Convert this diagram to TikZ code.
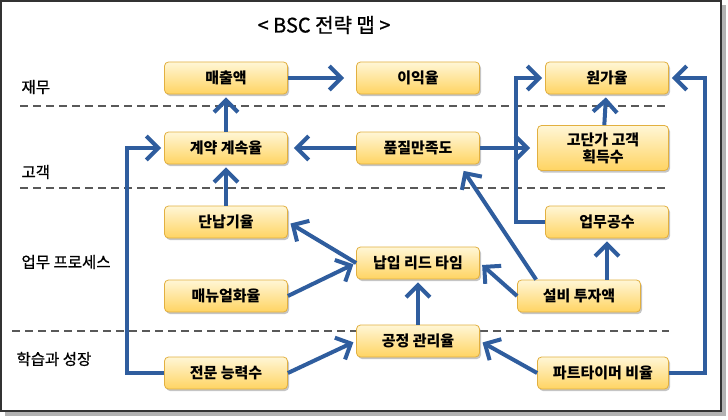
\documentclass[tikz,border=0pt]{standalone}
\usepackage{fontspec}
\setmainfont{Noto Sans CJK KR}
\newfontfamily\heavyfont[FakeBold=0.8]{Noto Sans CJK KR}
\usepackage{tikz}
\usetikzlibrary{
    arrows.meta,
    shadows,
    calc,
    positioning
}
\definecolor{flowblue}{RGB}{47,93,158}
\definecolor{boxtop}{RGB}{255,246,214}
\definecolor{boxbot}{RGB}{255,212,98}
\definecolor{boxline}{RGB}{226,176,64}
\tikzset{kpi/.style={rounded corners=4pt, draw=boxline, line width=0.8pt,
    top color=boxtop, bottom color=boxbot, minimum width=123pt, minimum height=32pt,
    inner sep=1pt, align=center, font=\fontsize{15}{17}\selectfont\bfseries,
    drop shadow={shadow xshift=1.5pt, shadow yshift=-2pt, opacity=0.45}}}
\tikzset{flow/.style={draw=flowblue, line width=4pt,
    -{Straight Barb[length=12pt, width=24pt, line width=4pt]}, shorten >=3pt}}
\tikzset{layer/.style={draw=black!65, line width=1.8pt, dash pattern=on 8pt off 5pt}}
\tikzset{persp/.style={anchor=west, font=\fontsize{15.5}{17}\heavyfont}}

\begin{document}
\begin{tikzpicture}[x=1pt, y=-1pt]
    \useasboundingbox (0,0) rectangle (728,420);
    % frame
    \fill[black!30] (5,5) rectangle (726,416);
    \draw[fill=white, draw=black!80, line width=1.2pt] (1,1) rectangle (721,411);

    \node[font=\fontsize{20}{22}\heavyfont] (title) at (324,25) {< BSC 전략 맵 >};

    % layers
    \draw[layer] (20,106) -- (669,106);
    \draw[layer] (20,188) -- (669,188);
    \draw[layer] (12,331) -- (669,331);

    \node[persp] (fin) at (18,87) {재무};
    \node[persp] (cus) at (18,172) {고객};
    \node[persp] (proc) at (18,262) {업무 프로세스};
    \node[persp] (learn) at (13,359) {학습과 성장};

    % boxes
    \node[kpi] (sales) at (226,78) {매출액};
    \node[kpi] (profit) at (418,78) {이익율};
    \node[kpi] (cost) at (607,78) {원가율};
    \node[kpi] (renew) at (226,148) {계약 계속율};
    \node[kpi] (qual) at (418,148) {품질만족도};
    \node[kpi, minimum width=131pt, minimum height=45pt] (vip) at (603,148) {고단가 고객\\획득수};
    \node[kpi] (ontime) at (226,222) {단납기율};
    \node[kpi] (manual) at (226,296) {매뉴얼화율};
    \node[kpi] (lead) at (418,263) {납입 리드 타임};
    \node[kpi] (work) at (607,222) {업무공수};
    \node[kpi] (invest) at (579,296) {설비 투자액};
    \node[kpi] (ctrl) at (418,341) {공정 관리율};
    \node[kpi] (skill) at (226,373) {전문 능력수};
    \node[kpi, minimum width=131pt] (part) at (603,373) {파트타이머 비율};

    % links
    \draw[flow, shorten >=12pt] (sales) -- (profit);
    \draw[flow] (renew) -- (sales);
    \draw[flow, shorten >=6pt] (qual) -- (renew);
    \draw[flow, shorten >=7pt] (qual) -- (vip);
    \draw[flow] (vip) -- (cost);
    \draw[flow] (work.west) -- ++(-29,0) |- (cost.west);
    \draw[flow] (part.east) -- ++(36,0) |- (cost.east);
    \draw[flow] (skill.west) -- ++(-37,0) |- (renew.west);
    \draw[flow] (ontime) -- (renew);
    \draw[flow] (lead.west) -- (ontime.east);
    \draw[flow] (manual.east) -- (lead.west);
    \draw[flow] (ctrl) -- (lead);
    \draw[flow] (invest.west) -- (lead.east);
    \draw[flow] ($(invest.north west)+(19,0)$) -- ($(qual.south)+(44,4)$);
    \draw[flow] (invest.north -| work.south) -- (work.south);
    \draw[flow] (part.west) -- (ctrl.east);
    \draw[flow] (skill.east) -- (ctrl.west);
\end{tikzpicture}
\end{document}
